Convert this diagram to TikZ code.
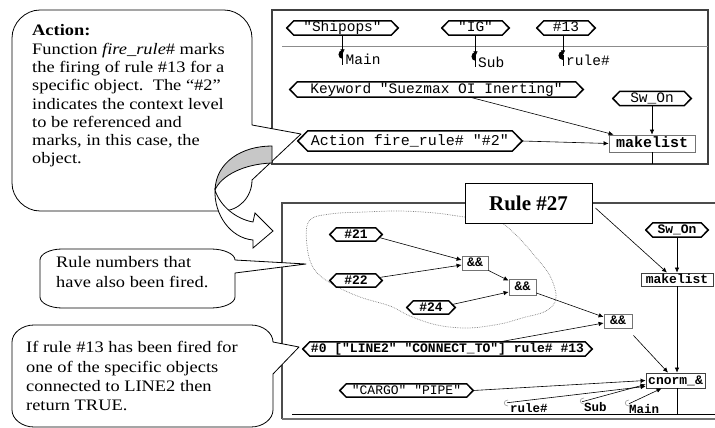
\documentclass[tikz,border=0pt]{standalone}
\usepackage{fontspec}
\setmainfont{Liberation Serif}
\setmonofont{Liberation Mono}
\newfontfamily\notefont{Liberation Serif}[FakeStretch=1.15, Ligatures=TeX]
\usetikzlibrary{arrows.meta}

% tag-shaped (hexagonal) node: [style]{name}{centre}{width}{height}{text}
\newcommand\hexnode[6][]{%
  \node[#1, minimum width=#4, minimum height=#5] (#2) at (#3) {#6};
  \draw[hexline] (#2.west) -- ([xshift=#5/2]#2.north west) -- ([xshift=-#5/2]#2.north east)
    -- (#2.east) -- ([xshift=-#5/2]#2.south east) -- ([xshift=#5/2]#2.south west) -- cycle;}

\begin{document}
\begin{tikzpicture}[x=1pt, y=-1pt,
  hexline/.style={line width=1.5pt, line join=miter},
  toptag/.style={inner sep=0pt, font=\fontsize{14.5}{16}\selectfont\ttfamily, text height=8pt, text depth=0pt},
  bottag/.style={inner sep=0pt, font=\fontsize{13}{15}\selectfont\ttfamily\bfseries, text height=7.5pt, text depth=0pt},
  toplabel/.style={inner sep=0pt, font=\fontsize{14.5}{16}\selectfont\ttfamily},
  botlabel/.style={inner sep=0pt, font=\fontsize{12.5}{15}\selectfont\ttfamily\bfseries},
  opbox/.style={draw=black!55, fill=white, line width=0.8pt, inner sep=0pt,
    font=\fontsize{13}{15}\selectfont\ttfamily\bfseries, text height=7.5pt, text depth=0pt},
  link/.style={line width=0.6pt, -{Latex[length=5pt,width=4.5pt]}},
  wire/.style={line width=0.6pt},
  note/.style={draw, line width=0.8pt, fill=white, line join=round},
  notetext/.style={inner sep=0pt, anchor=north west, align=left},
  panel/.style={draw=black!75, line width=1.2pt},
  hook/.style={draw=black!40, line width=0.6pt},
]
\useasboundingbox (0,0) rectangle (715,428);

% ---------- panels ----------
\draw[panel] (272,10) rectangle (708,164);
\draw[black!45, line width=0.8pt] (282,46) -- (708,46);
\draw[draw=black!70, line width=1.2pt] (282,419) -- (282,203) -- (715,203);
\draw[draw=black!55, line width=1.6pt] (282,419) -- (715,419);
\draw[wire] (292,414) -- (715,414);

% ---------- callouts ----------
\draw[note] (40,10) -- (224,10) .. controls (239,10) and (252,23) .. (252,38) -- (252,125)
  -- (301,134) -- (252,180) .. controls (252,197) and (239,211) .. (222,211)
  -- (40,211) .. controls (25,211) and (12,198) .. (12,183) -- (12,38)
  .. controls (12,23) and (25,10) .. (40,10) -- cycle;
\node[notetext, font=\notefont\fontsize{16}{18.3}\selectfont] (actnote) at (32,24.5)
  {\textbf{Action:}\\Function \textit{fire\_rule}\# marks\\the firing of rule \#13 for a\\
   specific object.\ \ The “\#2”\\indicates the context level\\to be referenced and\\
   marks, in this case, the\\object.};

\draw[note] (62,249) -- (211,249) .. controls (224,249) and (235,254) .. (235,260)
  -- (306,264) -- (235,273) -- (235,297) .. controls (235,303) and (224,308) .. (211,308)
  -- (62,308) .. controls (50,308) and (40,303) .. (40,297) -- (40,260)
  .. controls (40,254) and (50,249) .. (62,249) -- cycle;
\node[notetext, font=\notefont\fontsize{16}{20}\selectfont] (rulenote) at (56,256)
  {Rule numbers that\\have also been fired.};

\draw[note] (34,325) -- (251,325) .. controls (263,325) and (273,333) .. (273,342)
  -- (299,347) -- (273,374) -- (273,410) .. controls (273,419) and (263,427) .. (251,427)
  -- (34,427) .. controls (22,427) and (12,419) .. (12,410) -- (12,342)
  .. controls (12,333) and (22,325) .. (34,325) -- cycle;
\node[notetext, font=\notefont\fontsize{16}{19.2}\selectfont] (firednote) at (26,341.5)
  {If rule \#13 has been fired for\\one of the specific objects\\connected to LINE2 then\\return TRUE.};

% ---------- curved arrow ----------
\draw[line width=0.8pt, fill=black!22, line join=round]
  (272,146) .. controls (242,146) and (216,162) .. (215,190)
  .. controls (221,176) and (243,164) .. (272,163) -- cycle;
\draw[line width=0.8pt, fill=white, line join=miter]
  (215,190) .. controls (214,214) and (230,238) .. (253,240) -- (253,248) -- (273,231)
  -- (255,213) -- (253,222) .. controls (236,219) and (220,206) .. (215,190) -- cycle;

% ---------- group of fired rules ----------
\draw[black!50, densely dotted, line width=0.7pt] plot[smooth cycle, tension=0.6] coordinates
  {(309,221) (330,214) (365,212) (400,211) (435,213) (465,217) (497,221) (515,234)
   (534,255) (550,276) (556,298) (546,311) (522,318) (500,324) (468,328) (437,325)
   (410,316) (390,306) (360,297) (332,284) (314,269) (307,246)};

% ---------- top panel ----------
\hexnode[toptag]{ship}{342.5,28}{111pt}{14pt}{"Shipops"}
\hexnode[toptag]{ig}{475.5,28}{67pt}{14pt}{"IG"}
\hexnode[toptag]{rthirteen}{566,28}{58pt}{14pt}{\#13}
\hexnode[toptag]{kw}{436.5,89.5}{293pt}{15pt}{Keyword "Suezmax OI Inerting"}
\hexnode[toptag]{swtop}{652,98.5}{78pt}{14pt}{Sw\_On}
\hexnode[toptag, font=\fontsize{15}{16}\selectfont\ttfamily]{act}{410,141}{224pt}{20pt}{Action fire\_rule\# "\#2"}
\node[opbox, minimum width=86pt, minimum height=17pt, font=\fontsize{15}{16}\selectfont\ttfamily\bfseries,
  text height=8pt] (mktop) at (652,143.5) {makelist};

\node[toplabel, anchor=base west] (lmain) at (345.5,65) {Main};
\node[toplabel, anchor=base west] (lsub) at (478,67) {Sub};
\node[toplabel, anchor=base west] (lrule) at (566,66) {rule\#};
\draw[link] (ship.south) -- (ship.south |- lmain.north);
\draw[link] (ig.south) -- (ig.south |- lsub.north);
\draw[link] ([xshift=-3pt]rthirteen.south) -- ([xshift=-3pt]rthirteen.south |- lrule.north);
\draw[wire] (ship.south |- lmain.north) -- (ship.south |- lmain.base);
\draw[wire] (ig.south |- lsub.north) -- (ig.south |- lsub.base);
\draw[wire] ([xshift=-3pt]rthirteen.south |- lrule.north) -- ([xshift=-3pt]rthirteen.south |- lrule.base);
\fill (342.5,50) .. controls (336.5,50) and (336.5,59) .. (342.5,59) -- cycle;
\fill (475.5,52) .. controls (469.5,52) and (469.5,61) .. (475.5,61) -- cycle;
\fill (563,51) .. controls (557,51) and (557,60) .. (563,60) -- cycle;

\coordinate (topout) at (652,164);
\draw[link] ([xshift=33.5pt]kw.south) -- ([xshift=5pt]mktop.north west);
\draw[link] (swtop.south) -- (mktop.north);
\draw[link] (act.east) -- (mktop.west);
\draw[wire] (mktop.south) -- (topout);

% ---------- bottom panel ----------
\node[draw, line width=0.9pt, fill=white, minimum width=127pt, minimum height=40pt, inner sep=0pt,
  font=\fontsize{21}{24}\selectfont\bfseries] (rulebox) at (528.5,203) {Rule \#27};

\hexnode[bottag]{hone}{356,234.5}{52pt}{13pt}{\#21}
\hexnode[bottag]{htwo}{356,280.5}{52pt}{13pt}{\#22}
\hexnode[bottag]{hfour}{431,307.5}{48pt}{13pt}{\#24}
\hexnode[bottag]{hzero}{447.5,349}{289pt}{14pt}{\#0 ["LINE2" "CONNECT\_TO"] rule\# \#13}
\hexnode[bottag, font=\fontsize{13}{15}\selectfont\ttfamily]{cargo}{406.5,390.5}{133pt}{13pt}{"CARGO" "PIPE"}
\hexnode[bottag]{swbot}{677,230}{62pt}{14pt}{Sw\_On}

\node[opbox, minimum width=26pt, minimum height=14pt] (andone) at (475,263) {\&\&};
\node[opbox, minimum width=27pt, minimum height=16pt] (andtwo) at (522.5,287) {\&\&};
\node[opbox, minimum width=28pt, minimum height=14pt] (andthree) at (618,321) {\&\&};
\node[opbox, draw=black!75, minimum width=72pt, minimum height=13pt] (mkbot) at (677,279.5) {makelist};
\node[opbox, draw=black!75, minimum width=59pt, minimum height=15pt] (cnorm) at (675.5,380.5) {cnorm\_\&};

\node[botlabel, anchor=base west] (brule) at (510,412) {rule\#};
\node[botlabel, anchor=base west] (bsub) at (584,411) {Sub};
\node[botlabel, anchor=base west] (bmain) at (629,413) {Main};
\draw[hook] (508,400) .. controls (503,400) and (503,406) .. (508,406);
\draw[hook] (584,398) .. controls (579,398) and (579,404) .. (584,404);
\draw[hook] (629,400) .. controls (624,400) and (624,406) .. (629,406);

\coordinate (cnormout) at (677,414);
\draw[link] ([xshift=-3pt,yshift=-3pt]hone.east) -- ([yshift=3pt]andone.west);
\draw[link] ([xshift=-3pt,yshift=3pt]htwo.east) -- ([yshift=-2pt]andone.west);
\draw[link] (andone.south east) -- ([yshift=-2pt]andtwo.north west);
\draw[link] ([xshift=-3pt,yshift=3pt]hfour.east) -- ([yshift=-5pt]andtwo.west);
\draw[link] ([yshift=-6pt]andtwo.east) -- ([yshift=4pt]andthree.west);
\draw[link] ([xshift=52.5pt]hzero.north) -- ([yshift=-2pt]andthree.west);
\draw[link] ([xshift=1pt,yshift=-7pt]andthree.south east) -- ([xshift=-7.5pt]cnorm.north);
\draw[link] ([xshift=3pt,yshift=-5pt]rulebox.east) -- ([xshift=-10pt]mkbot.north);
\draw[link] (swbot.south) -- (mkbot.north);
\draw[link] (mkbot.south) -- (mkbot.south |- cnorm.north);
\draw[wire] (mkbot.south |- cnorm.south) -- (cnormout);
\draw[link] (cargo.east) -- (cnorm.west);
\draw[link] ([xshift=-3pt]brule.north west) -- ([yshift=2pt]cnorm.south west);
\draw[link] ([xshift=-2pt]bsub.north west) -- ([yshift=4pt]cnorm.south west);
\draw[link] (bmain.north west) -- ([xshift=16pt]cnorm.south west);
\end{tikzpicture}
\end{document}
